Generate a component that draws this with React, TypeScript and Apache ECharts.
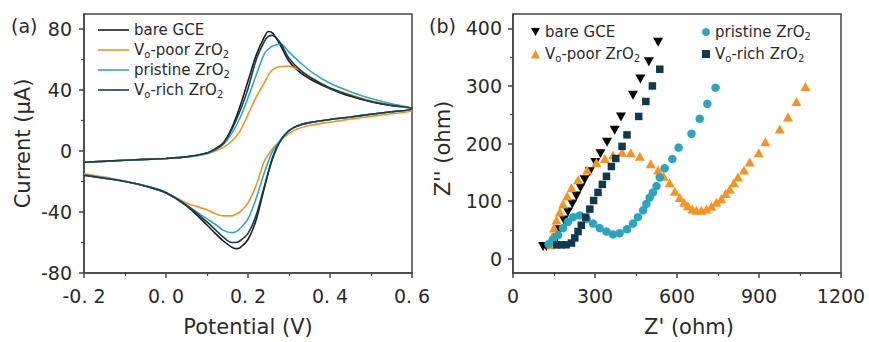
import React, { useEffect, useRef } from 'react';
import * as echarts from 'echarts';

const FONT = '"DejaVu Sans", "Liberation Sans", sans-serif';
const TEXT = '#2a2a2a';
const FRAME = '#444444';

const SERIES_NAMES = ['bare GCE', 'Vo-poor ZrO2', 'pristine ZrO2', 'Vo-rich ZrO2'];
const CV_COLORS = ['#1c1c1c', '#f7931e', '#2fa8c2', '#163e52'];
const EIS_COLORS = ['#050505', '#f7931e', '#2aa5bf', '#0f3a4d'];

// Cyclic voltammetry: forward (anodic) and reverse (cathodic) sweep potentials, V
const cvForwardE = [-0.2, -0.1, 0, 0.05, 0.1, 0.12, 0.14, 0.16, 0.18, 0.2, 0.22, 0.24, 0.25, 0.26, 0.28, 0.3, 0.33, 0.36, 0.4, 0.45, 0.5, 0.55, 0.6];
const cvReverseE = [0.6, 0.55, 0.5, 0.45, 0.4, 0.35, 0.32, 0.3, 0.28, 0.26, 0.24, 0.22, 0.2, 0.18, 0.17, 0.16, 0.14, 0.12, 0.1, 0.05, 0, -0.05, -0.1, -0.15, -0.2];

// Currents, µA
const bareFwd = [-7.3, -6, -4.8, -3.8, -1.2, 1.5, 5.5, 15, 29, 46, 63, 75, 78.5, 77.5, 69, 59, 51, 46, 41, 36, 32.5, 30, 28];
const bareRev = [27.5, 25.8, 24.2, 22.4, 20.8, 18.7, 16.5, 13.5, 7.5, -4, -24, -45, -58, -63.5, -64, -63, -59, -54, -48.5, -36, -27.5, -23, -20, -17.8, -15.8];
const poorFwd = [-7.3, -6, -4.8, -3.9, -1.8, 0, 2.5, 6.5, 13, 24, 35.5, 45, 50, 53.5, 55.5, 55.7, 52.5, 47.5, 41.5, 37, 33, 30, 27.5];
const poorRev = [26.5, 24.5, 22.8, 21, 19, 16.8, 14.5, 11.5, 7, 1.5, -6.5, -22.5, -34, -40, -41.5, -42.5, -42.5, -41, -38.5, -34, -27.3, -22.8, -19.8, -17, -14.8];
const pristineFwd = [-7.3, -6, -4.8, -3.8, -1.5, 0.8, 4.5, 11.5, 21.6, 35, 50, 64, 67, 69, 70.2, 65, 57.5, 51, 44.5, 39, 34.5, 31, 28];
const pristineRev = [27.5, 25.8, 24.2, 22.4, 20.8, 18.7, 16.5, 13.5, 7.5, 0, -14, -31, -44.5, -51, -53, -53.5, -52, -48, -44.5, -35.5, -27, -22.8, -19.8, -17.5, -15.5];
const richFwd = [-7.3, -6, -4.8, -3.8, -1.3, 1.2, 5, 14, 26, 41, 60, 72, 75.5, 76, 70.5, 61, 52.5, 47, 41.5, 36.5, 32.5, 30, 28];
const richRev = [27.5, 25.8, 24.2, 22.4, 20.8, 18.7, 16.5, 13.5, 7, -5, -23, -42, -54, -59, -60, -60, -56.5, -51.5, -46.5, -35.5, -27.3, -23, -20, -17.8, -15.8];

// Nyquist plots: [Z', Z''] in ohm
const bareEis: [number, number][] = [[110, 21], [122, 21], [146, 24], [159, 36], [171, 50], [186, 67], [201, 81], [217, 95], [232, 109], [247, 123], [262, 137], [281, 151], [301, 167], [320, 182], [344, 202], [372, 223], [395, 246], [439, 284], [466, 312], [497, 342], [531, 376]];
const poorEis: [number, number][] = [[140, 24], [144, 38], [150, 53], [159, 67], [171, 81], [183, 95], [198, 109], [214, 123], [238, 137], [271, 154], [305, 167], [336, 174], [366, 180], [399, 185], [431, 184], [464, 178], [504, 165], [531, 154], [551, 143], [573, 132], [592, 117], [610, 106], [626, 98], [640, 92], [656, 86], [671, 84], [689, 84], [708, 86], [726, 91], [744, 98], [762, 104], [778, 113], [793, 121], [808, 132], [823, 142], [845, 154], [866, 168], [899, 184], [923, 203], [976, 225], [1006, 246], [1037, 273], [1070, 299]];
const pristineEis: [number, number][] = [[130, 25], [146, 33], [165, 41], [183, 53], [201, 64], [220, 72], [244, 75], [269, 69], [293, 61], [317, 53], [342, 47], [366, 42], [390, 44], [417, 51], [439, 61], [457, 72], [476, 84], [488, 95], [500, 106], [512, 115], [525, 126], [537, 141], [555, 157], [583, 173], [606, 193], [653, 217], [683, 243], [711, 269], [741, 297]];
const richEis: [number, number][] = [[160, 24], [177, 24], [195, 24], [214, 27], [226, 36], [238, 47], [250, 58], [266, 72], [281, 86], [295, 101], [311, 115], [327, 129], [342, 143], [360, 160], [376, 174], [399, 195], [417, 215], [460, 247], [486, 273], [510, 300], [537, 329]];

const cvYTicks = [-80, -40, 0, 40, 80];
const cvYMinor = [-60, -20, 20, 60];
const eisYTicks = [0, 100, 200, 300, 400];
const eisYMinor = [50, 150, 250, 350];

const cvCurves = [
  [bareFwd, bareRev],
  [poorFwd, poorRev],
  [pristineFwd, pristineRev],
  [richFwd, richRev],
];
const eisSets = [bareEis, poorEis, pristineEis, richEis];
const eisSymbols = [
  { symbol: 'triangle', size: [10, 9], rotate: 180 },
  { symbol: 'triangle', size: [10, 9], rotate: 0 },
  { symbol: 'circle', size: 8.5, rotate: 0 },
  { symbol: 'rect', size: 7.5, rotate: 0 },
];
const eisLegendIcons = ['path://M0,0L10,0L5,9Z', 'triangle', 'circle', 'rect'];

const richName = (n: string) => n.replace(/^Vo/, 'V{sub|o}').replace(/O2$/, 'O{sub|2}');

const legendText = {
  fontSize: 15,
  fontFamily: FONT,
  color: TEXT,
  lineHeight: 18,
  rich: {
    sub: { fontSize: 10, fontFamily: FONT, color: TEXT, lineHeight: 10, padding: [8, 0, 0, 0] },
  },
};

const tickLabel = { fontSize: 19, fontFamily: FONT, color: TEXT };
const axisName = { fontSize: 21, fontFamily: FONT, color: TEXT };
const lineStyle = { color: FRAME, width: 1.5 };

function valueAxis(extra: any) {
  return {
    type: 'value',
    axisLine: { show: true, onZero: false, lineStyle },
    axisTick: { show: true, length: 5, lineStyle },
    splitLine: { show: false },
    ...extra,
  };
}

function minorAxis(gridIndex: number, min: number, max: number, values: number[]) {
  return {
    type: 'value',
    gridIndex,
    position: 'left',
    min,
    max,
    axisLine: { show: false, onZero: false },
    axisLabel: { show: false },
    axisTick: { show: true, length: 3, customValues: values, lineStyle: { color: FRAME, width: 1.2 } },
    splitLine: { show: false },
  };
}

export default function App() {
  const ref = useRef<HTMLDivElement>(null);

  useEffect(() => {
    if (!ref.current) return;
    const chart = echarts.init(ref.current, null, { renderer: 'svg' });

    const cvSeries = cvCurves.map(([fwd, rev], i) => ({
      name: SERIES_NAMES[i],
      type: 'line',
      xAxisIndex: 0,
      yAxisIndex: 0,
      showSymbol: false,
      symbol: 'none',
      smooth: 0.3,
      lineStyle: { color: CV_COLORS[i], width: 1.6 },
      itemStyle: { color: CV_COLORS[i] },
      data: cvForwardE.map((e, k) => [e, fwd[k]]).concat(cvReverseE.map((e, k) => [e, rev[k]])),
    }));

    const eisSeries = eisSets.map((pts, i) => ({
      name: SERIES_NAMES[i],
      type: 'scatter',
      xAxisIndex: 1,
      yAxisIndex: 2,
      symbol: eisSymbols[i].symbol,
      symbolSize: eisSymbols[i].size,
      symbolRotate: eisSymbols[i].rotate,
      itemStyle: { color: EIS_COLORS[i], opacity: 1 },
      data: pts,
    }));

    chart.setOption({
      animation: false,
      backgroundColor: '#ffffff',
      grid: [
        { left: 84, top: 14, width: 328, height: 264, show: true, borderColor: FRAME, borderWidth: 1.5, backgroundColor: 'transparent' },
        { left: 513, top: 14, width: 328, height: 265, show: true, borderColor: FRAME, borderWidth: 1.5, backgroundColor: 'transparent' },
      ],
      xAxis: [
        valueAxis({
          gridIndex: 0,
          min: -0.2,
          max: 0.6,
          interval: 0.2,
          minorTick: { show: true, splitNumber: 2, length: 3, lineStyle: { color: FRAME, width: 1.2 } },
          axisLabel: {
            ...tickLabel,
            margin: 13,
            formatter: (v: number) => (Math.abs(v) < 1e-9 ? 0 : v).toFixed(1).replace('.', '. '),
          },
          name: 'Potential (V)',
          nameLocation: 'middle',
          nameGap: 43,
          nameTextStyle: axisName,
        }),
        valueAxis({
          gridIndex: 1,
          min: 0,
          max: 1200,
          interval: 300,
          minorTick: { show: true, splitNumber: 2, length: 3, lineStyle: { color: FRAME, width: 1.2 } },
          axisLabel: { ...tickLabel, margin: 13, formatter: (v: number) => String(Math.round(v)) },
          name: "Z' (ohm)",
          nameLocation: 'middle',
          nameGap: 43,
          nameTextStyle: { ...axisName, padding: [0, 0, 0, 24] },
        }),
      ],
      yAxis: [
        valueAxis({
          gridIndex: 0,
          position: 'left',
          min: -80,
          max: 90,
          axisTick: { show: true, length: 5, customValues: cvYTicks, lineStyle },
          axisLabel: { ...tickLabel, margin: 12, customValues: cvYTicks },
          name: 'Current (μA)',
          nameLocation: 'middle',
          nameGap: 51,
          nameTextStyle: axisName,
        }),
        minorAxis(0, -80, 90, cvYMinor),
        valueAxis({
          gridIndex: 1,
          position: 'left',
          min: -25,
          max: 425,
          axisTick: { show: true, length: 5, customValues: eisYTicks, lineStyle },
          axisLabel: { ...tickLabel, margin: 11, customValues: eisYTicks },
          name: "Z'' (ohm)",
          nameLocation: 'middle',
          nameGap: 60,
          nameTextStyle: { ...axisName, padding: [0, 10, 0, 0] },
        }),
        minorAxis(1, -25, 425, eisYMinor),
      ],
      legend: [
        {
          orient: 'vertical',
          left: 93,
          top: 16,
          itemWidth: 31,
          itemHeight: 1.6,
          itemGap: 2,
          selectedMode: false,
          data: SERIES_NAMES.map((n, i) => ({ name: n, icon: 'rect', itemStyle: { color: CV_COLORS[i] } })),
          formatter: richName,
          textStyle: legendText,
        },
        {
          orient: 'vertical',
          left: 526,
          top: 18,
          itemWidth: 9,
          itemHeight: 9,
          itemGap: 4,
          selectedMode: false,
          data: [0, 1].map((i) => ({ name: SERIES_NAMES[i], icon: eisLegendIcons[i], itemStyle: { color: EIS_COLORS[i] } })),
          formatter: richName,
          textStyle: legendText,
        },
        {
          orient: 'vertical',
          left: 697,
          top: 18,
          itemWidth: 8,
          itemHeight: 8,
          itemGap: 4,
          selectedMode: false,
          data: [2, 3].map((i) => ({ name: SERIES_NAMES[i], icon: eisLegendIcons[i], itemStyle: { color: EIS_COLORS[i] } })),
          formatter: richName,
          textStyle: legendText,
        },
      ],
      graphic: [
        { type: 'text', left: 11, top: 16, style: { text: '(a)', font: `19px ${FONT}`, fill: TEXT } },
        { type: 'text', left: 429, top: 16, style: { text: '(b)', font: `19px ${FONT}`, fill: TEXT } },
      ],
      series: [...cvSeries, ...eisSeries],
    });

    return () => chart.dispose();
  }, []);

  return (
    <div
      ref={ref}
      style={{ position: 'fixed', left: 0, top: 0, width: 869, height: 342, background: '#ffffff' }}
    />
  );
}
